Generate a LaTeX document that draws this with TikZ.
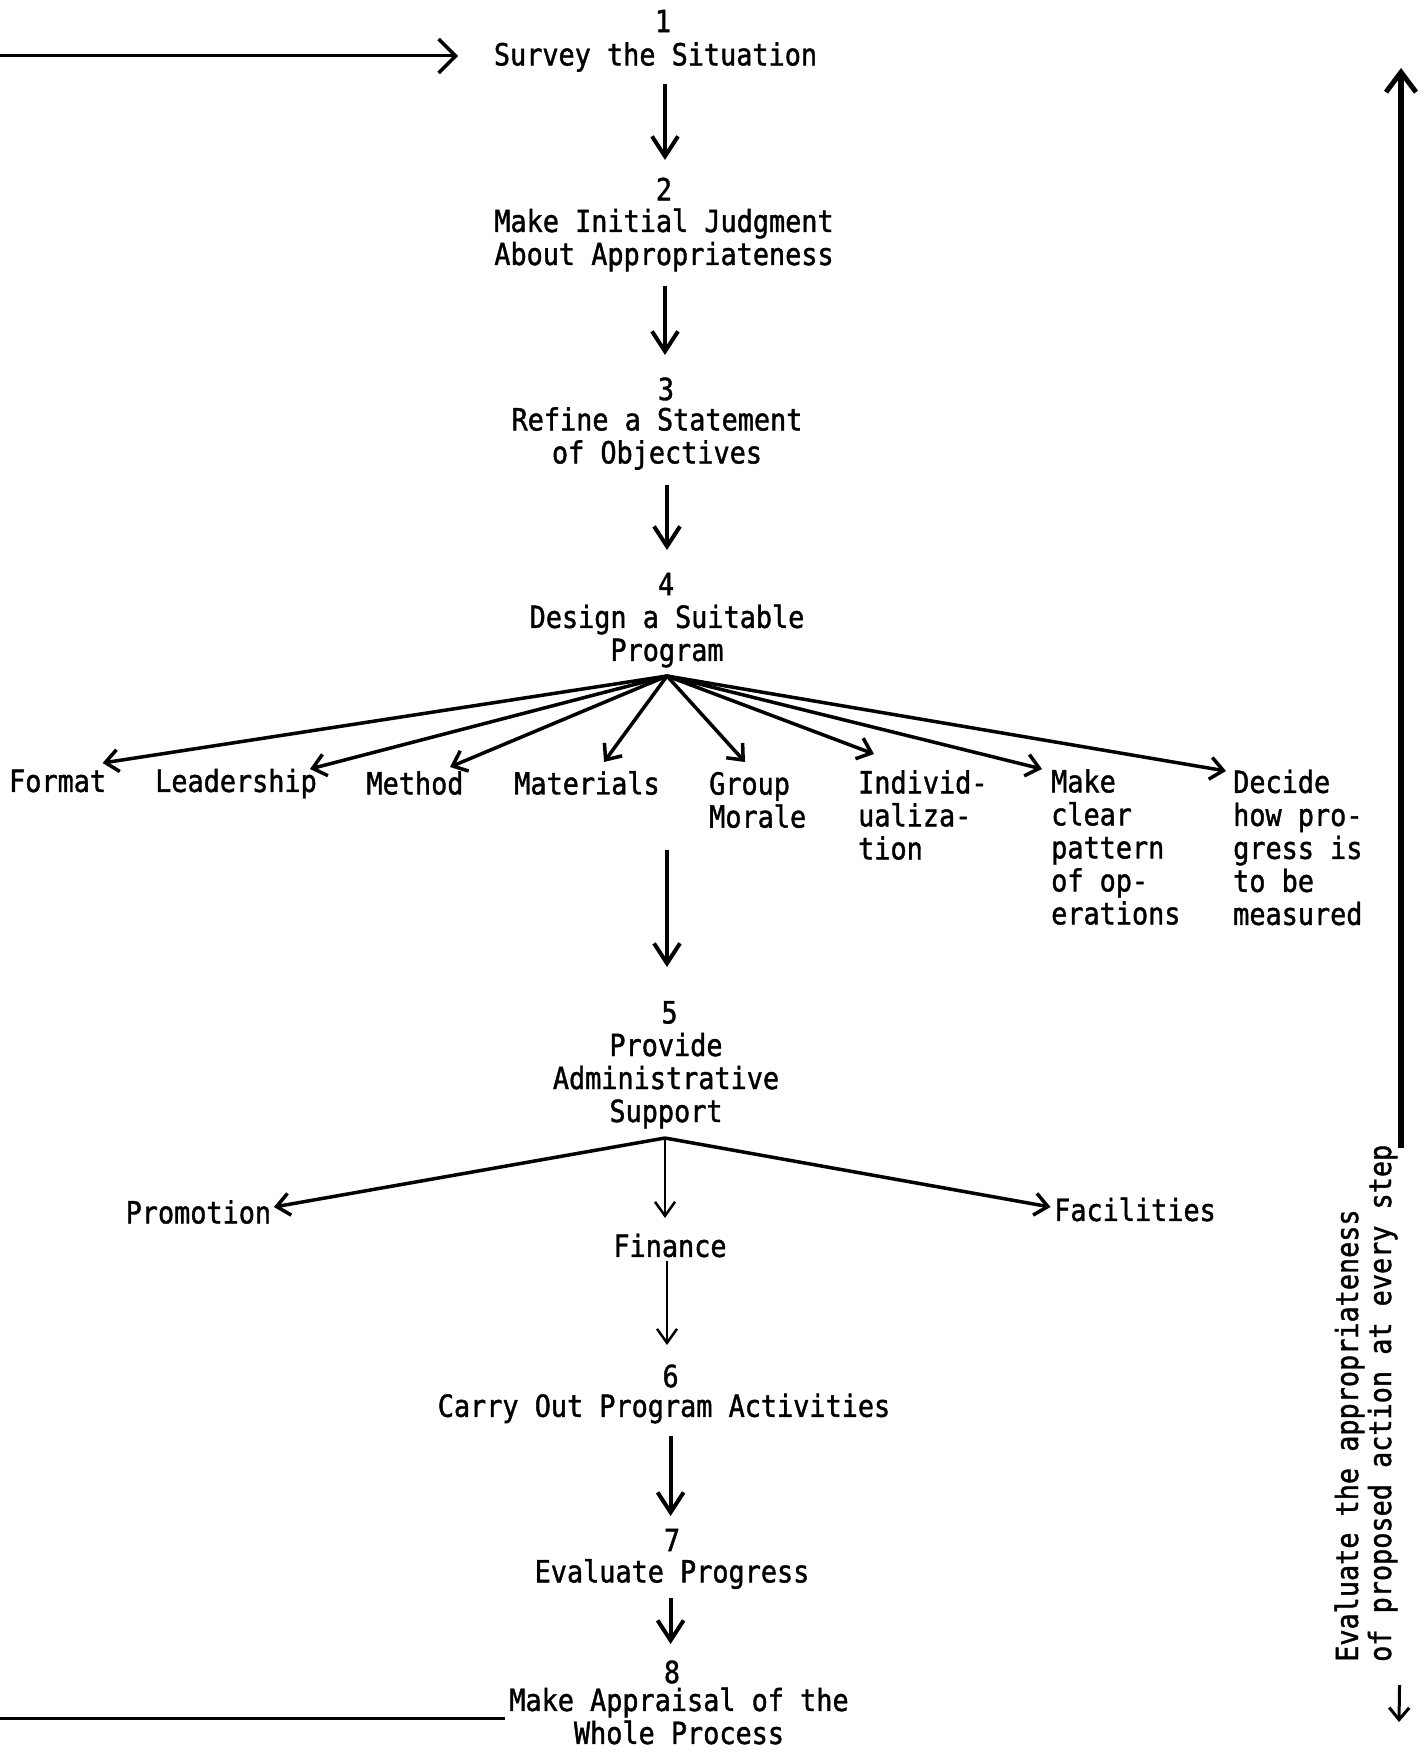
\documentclass[tikz,border=0pt]{standalone}
\usepackage{fontspec}
\newfontfamily\tw{DejaVu Sans Mono}[FakeStretch=0.88,FakeBold=1.3]
\usetikzlibrary{arrows.meta}
\begin{document}
\begin{tikzpicture}[x=1pt,y=-1pt,
  lbl/.style={font={\tw\fontsize{30.5}{33}\selectfont}, inner sep=0pt, align=center},
  lbll/.style={lbl, align=left, anchor=west},
  arr/.style={line width=4pt, -{Straight Barb[length=20pt,width=26pt,line width=4pt]}},
  barr/.style={line width=3.5pt, -{Straight Barb[length=13pt,width=22pt,line width=3.5pt]}},
  farr/.style={line width=2pt, -{Straight Barb[length=14pt,width=20pt,line width=2.5pt]}},
  larr/.style={line width=3pt, -{Straight Barb[length=17pt,width=34pt,line width=3.5pt]}},
  lline/.style={line width=3pt},
  rarr/.style={line width=6pt, -{Straight Barb[length=20pt,width=30pt,line width=5pt]}},
  sarr/.style={line width=3pt, -{Straight Barb[length=12pt,width=20pt,line width=3pt]}}]
\useasboundingbox (0,0) rectangle (1425,1752);
\fill[white] (0,0) rectangle (1425,1752);

% main steps
\node[lbl] (n1) at (663,21) {1};
\node[lbl] (t1) at (655.5,57) {Survey the Situation};
\node[lbl] (n2) at (664,189) {2};
\node[lbl] (t2) at (664,240) {Make Initial Judgment\\About Appropriateness};
\node[lbl] (n3) at (666,389) {3};
\node[lbl] (t3) at (657,438.5) {Refine a Statement\\of Objectives};
\node[lbl] (n4) at (666,584) {4};
\node[lbl] (t4) at (667,636) {Design a Suitable\\Program};
\node[lbl] (n5) at (669.5,1012.5) {5};
\node[lbl] (t5) at (666,1080.6) {Provide\\Administrative\\Support};
\node[lbl] (n6) at (670.6,1376) {6};
\node[lbl] (t6) at (664,1408.5) {Carry Out Program Activities};
\node[lbl] (n7) at (672,1540) {7};
\node[lbl] (t7) at (672,1574) {Evaluate Progress};
\node[lbl] (n8) at (672,1672) {8};
\node[lbl] (t8) at (679,1716) {Make Appraisal of the\\Whole Process};

% program branches
\node[lbl] (fmt) at (57.6,781) {Format};
\node[lbl] (lead) at (236,783.5) {Leadership};
\node[lbl] (meth) at (415,783) {Method};
\node[lbl] (mat) at (587,783) {Materials};
\node[lbll] (grp) at (709,800) {Group\\Morale};
\node[lbll] (ind) at (858,815) {Individ-\\ualiza-\\tion};
\node[lbll] (mk) at (1051,847) {Make\\clear\\pattern\\of op-\\erations};
\node[lbll] (dec) at (1233,847.5) {Decide\\how pro-\\gress is\\to be\\measured};

% support branches
\node[lbl] (prom) at (198.4,1212) {Promotion};
\node[lbl] (fac) at (1135,1209.5) {Facilities};
\node[lbl] (fin) at (670,1245.5) {Finance};

% side note
\node[lbl, rotate=90, align=left, anchor=west] (ev) at (1366,1662)
  {Evaluate the appropriateness\\of proposed action at every step};

\coordinate (f4) at (667,676);
\coordinate (f5) at (665,1138);
\coordinate (c45) at (667,849.5);
\coordinate (L1) at (0,56);
\coordinate (L8) at (0,1718);
\coordinate (topR) at (1401,68);
\coordinate (dn) at (1399,1722);

% main arrows
\draw[arr] ([shift={(9.5,27)}]t1.center) -- ([shift={(1,-29)}]n2.center);
\draw[arr] ([shift={(1,46)}]t2.center) -- ([shift={(-1,-34)}]n3.center);
\draw[arr] ([shift={(10,46.5)}]t3.center) -- ([shift={(1,-34)}]n4.center);
\draw[arr] (c45) -- ([shift={(-2.5,-45.5)}]n5.center);
\draw[farr] ([shift={(-3,15.5)}]fin.center) -- ([shift={(-3.6,-31)}]n6.center);
\draw[arr] ([shift={(6.6,27.5)}]t6.center) -- ([shift={(-1.4,-24)}]n7.center);
\draw[arr] ([shift={(-1.4,24)}]t7.center) -- ([shift={(-1.4,-28)}]n8.center);

% fan from step 4
\draw[barr] (f4) -- ([shift={(45,-18)}]fmt.center);
\draw[barr] (f4) -- ([shift={(74,-14.5)}]lead.center);
\draw[barr] (f4) -- ([shift={(35,-16)}]meth.center);
\draw[barr] (f4) -- ([shift={(17,-21)}]mat.center);
\draw[barr] (f4) -- ([shift={(36,-38)}]grp.west);
\draw[barr] (f4) -- ([shift={(16,-61)}]ind.west);
\draw[barr] (f4) -- ([shift={(-9,-78)}]mk.west);
\draw[barr] (f4) -- ([shift={(-7,-76.5)}]dec.west);

% fan from step 5
\draw[barr] (f5) -- ([shift={(75.5,-5)}]prom.center);
\draw[barr] (f5) -- ([shift={(-84.5,-2.5)}]fac.center);
\draw[farr] (f5) -- ([shift={(-5,-27.5)}]fin.center);

% feedback loop lines
\draw[larr] (L1) -- ([shift={(-197.5,-1)}]t1.center);
\draw[lline] ([shift={(-174,2)}]t8.center) -- (L8);

% evaluation arrows
\draw[rarr] (ev.south east) -| (topR);
\draw[sarr] ([shift={(2,23)}]ev.south west) -- (dn);
\end{tikzpicture}
\end{document}
